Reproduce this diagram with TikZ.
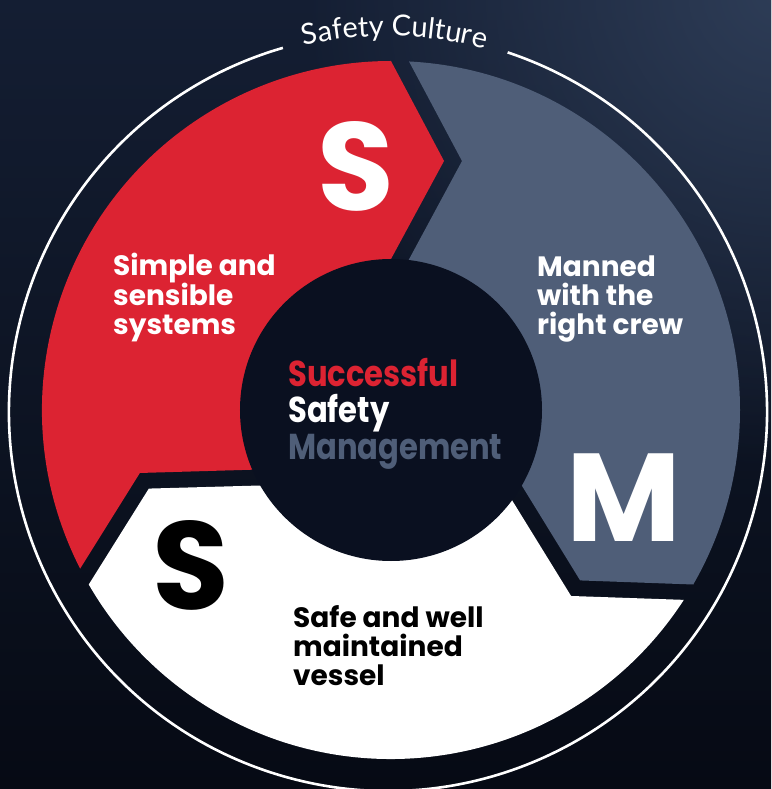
\documentclass[tikz,border=0pt]{standalone}
\usepackage{fontspec}
\usetikzlibrary{decorations.text,fadings}
\newfontfamily\popfont{Poppins}
\newfontfamily\popnarrow{Poppins}[FakeStretch=0.85]
\newfontfamily\latofont{Lato}
\definecolor{ssred}{HTML}{DC2332}
\definecolor{ssgray}{HTML}{4F5E78}
\definecolor{sstop}{HTML}{141E33}
\definecolor{ssbottom}{HTML}{060A14}
\definecolor{ssglow}{HTML}{2E3D57}
\definecolor{sscore}{HTML}{0A1020}
\tikzfading[name=glowfade, inner color=transparent!0, outer color=transparent!100]
\begin{document}
\begin{tikzpicture}[x=1pt,y=1pt,
  lbl/.style={font=\popfont\bfseries\fontsize{28}{29}\selectfont, align=left, anchor=base west, inner sep=0pt},
  ctr/.style={font=\popnarrow\bfseries\fontsize{36}{37}\selectfont, align=left, anchor=base west, inner sep=0pt},
  big/.style={font=\popfont\bfseries\fontsize{125}{125}\selectfont, inner sep=0pt, anchor=center}]
\useasboundingbox (-391,-379) rectangle (380,410);
% background
\shade[top color=sstop, bottom color=ssbottom] (-391,-379) rectangle (380,410);
\begin{scope}
  \clip (-391,-379) rectangle (380,410);
  \fill[ssglow, path fading=glowfade] (390,420) circle (480);
\end{scope}
% ring segments
\fill[ssred] (207.04:349) arc[start angle=207.04, end angle=90, radius=349]
  -- (77.98:254.6) -- (92.15:141.3) arc[start angle=92.15, end angle=204.86, radius=141.3]
  -- (194.08:258.9) -- cycle;
\fill[ssgray] (87.04:349) arc[start angle=87.04, end angle=-30, radius=349]
  -- (-42.02:254.6) -- (-27.85:141.3) arc[start angle=-27.85, end angle=84.86, radius=141.3]
  -- (74.08:258.9) -- cycle;
\fill[white] (-32.96:349) arc[start angle=-32.96, end angle=-150, radius=349]
  -- (-162.02:254.6) -- (-147.85:141.3) arc[start angle=-147.85, end angle=-35.14, radius=141.3]
  -- (-45.92:258.9) -- cycle;
% core
\fill[sscore] (0,0) circle (151);
% outer culture circle
\coordinate (wc) at (-3,-2);
\draw[white, line width=2.6pt] (wc) ++(71.6:379) arc[start angle=71.6, end angle=-253.9, radius=379];
\path[decorate, decoration={text along path, text align=center, text color=white,
  text={|\latofont\fontsize{29}{29}\selectfont|Safety Culture}}]
  (-106.6,359.4) arc[start angle=106, end angle=72, radius=376];
% big letters
\node[big, text=white] (bigS1) at (-35,244) {S};
\node[big, text=white] (bigM) at (233,-88) {M};
\node[big, text=black] (bigS2) at (-200,-155) {S};
% labels (anchored at the baseline of the last line)
\node[lbl, text=white] (sys) at (-278,75) {Simple and\\sensible\\systems};
\node[lbl, text=white] (crew) at (146,75) {Manned\\with the\\right crew};
\node[lbl, text=black] (vessel) at (-98,-275) {Safe and well\\maintained\\vessel};
\node[ctr] (ssm) at (-103,-50) {\textcolor{ssred}{Successful}\\\textcolor{white}{Safety}\\\textcolor{ssgray}{Management}};
\end{tikzpicture}
\end{document}
